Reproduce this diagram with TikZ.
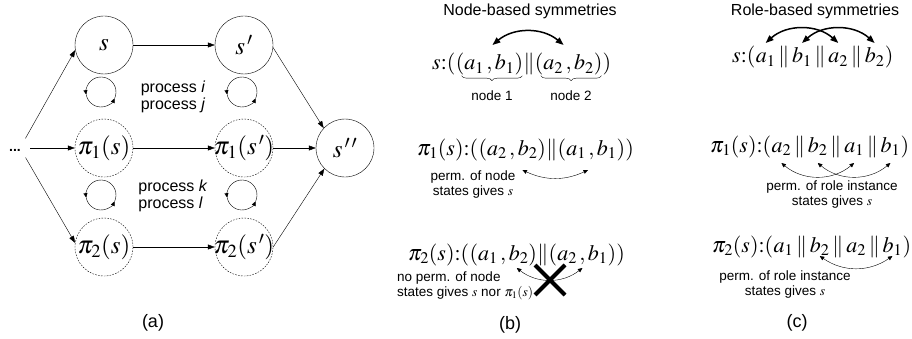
\documentclass[tikz,border=0pt]{standalone}
\usepackage{mathptmx}
\usepackage[no-math]{fontspec}
\setmainfont{Liberation Sans}
\usetikzlibrary{arrows.meta,calc,decorations.pathreplacing,shapes.misc}
\newcommand\statefont{\fontsize{25}{28}\selectfont}
\newcommand\fmlfont{\fontsize{22}{24}\selectfont}
\newcommand\notefont{\fontsize{13.5}{15}\selectfont}
\newcommand\stxt[1]{\makebox[0pt]{$#1$}}
\tikzset{
  state/.style={circle,draw,minimum size=58pt,inner sep=0pt,font=\statefont},
  imgstate/.style={state,dash pattern=on 1.6pt off 1.3pt},
  flow/.style={-{Triangle[length=7pt,width=5pt]}},
  spin/.style={-{Triangle[length=4.5pt,width=4pt]}},
  swaparc/.style={{Triangle[length=8pt,width=6pt]}-{Triangle[length=8pt,width=6pt]},line width=1.5pt},
  perm/.style={{Triangle[length=4.5pt,width=4pt]}-{Triangle[length=4.5pt,width=4pt]}},
  fml/.style={inner sep=0pt,anchor=base west,font=\fmlfont},
  note/.style={inner sep=0pt,align=center,font=\notefont},
  tag/.style={inner sep=0pt,font=\fontsize{16}{17}\selectfont},
  caption/.style={inner sep=0pt,font=\fontsize{18}{18}\selectfont},
}
\begin{document}
\begin{tikzpicture}[x=1pt,y=1pt]
\useasboundingbox (0,0) rectangle (912,338);
% (a) transition system and its images
\node[state] (s) at (104,293) {\stxt{s}};
\node[state] (sp) at (244,293) {\stxt{s^{\,\prime}}};
\node[imgstate] (pis) at (104,190) {\stxt{\pi_1(s)}};
\node[imgstate] (pisp) at (244,190) {\stxt{\pi_1(s^{\,\prime})}};
\node[imgstate] (pitwos) at (104,91) {\stxt{\pi_2(s)}};
\node[imgstate] (pitwosp) at (244,91) {\stxt{\pi_2(s^{\,\prime})}};
\node[state] (spp) at (345,190) {\stxt{s^{\,\prime\,\prime}}};
\node[inner sep=0pt,font=\fontsize{14}{14}\selectfont] (dots) at (15,188) {\textbf{...}};
\coordinate (fan) at (20,190);
\draw[flow,shorten <=9pt] (dots.east |- pis) -- (pis.west);
\draw[flow,shorten <=11pt] (fan) -- (s.190);
\draw[flow,shorten <=11pt] (fan) -- (pitwos.172);
\draw[flow] (s) -- (sp);
\draw[flow] (pis) -- (pisp);
\draw[flow] (pitwos) -- (pitwosp);
\draw[flow] (sp.355) -- (spp.137);
\draw[flow] (pisp) -- (spp);
\draw[flow] (pitwosp.east) -- (spp.225);
\foreach \p in {(101,246),(242,246),(101,143),(242,143)} {
  \draw[spin] \p ++(-25:15pt) arc[start angle=-25,end angle=190,radius=15pt];
  \draw[spin] \p ++(190:15pt) arc[start angle=190,end angle=335,radius=15pt];
}
\node[tag,align=left] (pij) at (173,241) {process \textit{i}\\process \textit{j}};
\node[tag,align=left] (pkl) at (173,142) {process \textit{k}\\process \textit{l}};
\node[caption] (capa) at (153,15) {(a)};
% (b) node-based symmetries
\node[tag] (nbtitle) at (530,327) {Node-based symmetries};
\node[fml] (bs) at (432,268) {$s{:}($};
\node[fml] (bg1) at (bs.base east) {$(a_1\mkern2mu,b_1)$};
\node[fml] (bbar) at (bg1.base east) {$\|$};
\node[fml] (bg2) at (bbar.base east) {$(a_2\mkern2mu,b_2)$};
\node[fml] (be) at (bg2.base east) {$)$};
\draw[swaparc] ([xshift=3pt,yshift=25pt]bg1.base) to[bend left=40] ([xshift=-5pt,yshift=25pt]bg2.base);
\draw[decorate,decoration={brace,mirror,amplitude=5pt}] ([xshift=6pt]bg1.south west) -- ([xshift=-1pt]bg1.south east)
  node[note,midway,below=15pt] (nodeone) {node 1};
\draw[decorate,decoration={brace,mirror,amplitude=5pt}] ([xshift=6pt]bg2.south west) -- ([xshift=-1pt]bg2.south east)
  node[note,midway,below=15pt] (nodetwo) {node 2};
\node[fml] (cs) at (417,183) {$\pi_1(s){:}($};
\node[fml] (cg1) at (cs.base east) {$(a_2\mkern2mu,b_2)$};
\node[fml] (cbar) at (cg1.base east) {$\|$};
\node[fml] (cg2) at (cbar.base east) {$(a_1\mkern2mu,b_1)$};
\node[fml] (ce) at (cg2.base east) {$)$};
\draw[perm] ($(cg1.base west)!.65!(cg1.base east)+(0,-15)$) to[bend right=25] ($(cg2.base west)!.45!(cg2.base east)+(0,-15)$);
\node[note] (permnode) at (473,153) {perm. of node\\states gives $s$};
\node[fml] (gs) at (408,78) {$\pi_2(s){:}($};
\node[fml] (gg1) at (gs.base east) {$(a_1\mkern2mu,b_2)$};
\node[fml] (gbar) at (gg1.base east) {$\|$};
\node[fml] (gg2) at (gbar.base east) {$(a_2\mkern2mu,b_1)$};
\node[fml] (ge) at (gg2.base east) {$)$};
\draw[perm] ($(gg1.base west)!.7!(gg1.base east)+(0,-8)$) to[bend right=38] ($(gg2.base west)!.5!(gg2.base east)+(0,-8)$);
\node[cross out,draw,line width=4pt,minimum size=26pt,inner sep=0pt] (nox) at (550,58) {};
\node[note,align=left,anchor=west] (nopermnode) at (397,52) {no perm. of node\\states gives $s$ nor $\pi_1(s)$};
\node[caption] (capb) at (510,13) {(b)};
% (c) role-based symmetries
\node[tag] (rbtitle) at (815,327) {Role-based symmetries};
\node[fml] (ds) at (732,275) {$s{:}($};
\node[fml] (da1) at (ds.base east) {$a_1$};
\node[fml] (dk1) at (da1.base east) {$\,\|\,$};
\node[fml] (db1) at (dk1.base east) {$b_1$};
\node[fml] (dk2) at (db1.base east) {$\,\|\,$};
\node[fml] (da2) at (dk2.base east) {$a_2$};
\node[fml] (dk3) at (da2.base east) {$\,\|\,$};
\node[fml] (db2) at (dk3.base east) {$b_2$};
\node[fml] (de) at (db2.base east) {$)$};
\draw[swaparc] ([yshift=20pt]da1.base) to[bend left=42] ([yshift=20pt]da2.base);
\draw[swaparc] ([yshift=20pt]db1.base) to[bend left=42] ([yshift=20pt]db2.base);
\node[fml] (es) at (710,186) {$\pi_1(s){:}($};
\node[fml] (ea2) at (es.base east) {$a_2$};
\node[fml] (ek1) at (ea2.base east) {$\,\|\,$};
\node[fml] (eb2) at (ek1.base east) {$b_2$};
\node[fml] (ek2) at (eb2.base east) {$\,\|\,$};
\node[fml] (ea1) at (ek2.base east) {$a_1$};
\node[fml] (ek3) at (ea1.base east) {$\,\|\,$};
\node[fml] (eb1) at (ek3.base east) {$b_1$};
\node[fml] (ee) at (eb1.base east) {$)$};
\draw[perm] ([yshift=-11pt]ea2.base) to[bend right=40] ([yshift=-11pt]ea1.base);
\draw[perm] ([yshift=-11pt]eb2.base) to[bend right=40] ([yshift=-11pt]eb1.base);
\node[note] (permrole) at (832,143) {perm. of role instance\\states gives $s$};
\node[fml] (fs) at (712,86) {$\pi_2(s){:}($};
\node[fml] (fa1) at (fs.base east) {$a_1$};
\node[fml] (fk1) at (fa1.base east) {$\,\|\,$};
\node[fml] (fb2) at (fk1.base east) {$b_2$};
\node[fml] (fk2) at (fb2.base east) {$\,\|\,$};
\node[fml] (fa2) at (fk2.base east) {$a_2$};
\node[fml] (fk3) at (fa2.base east) {$\,\|\,$};
\node[fml] (fb1) at (fk3.base east) {$b_1$};
\node[fml] (fe) at (fb1.base east) {$)$};
\draw[perm] ([yshift=-4pt]fb2.base) to[bend right=35] ([yshift=-4pt]fb1.base);
\node[note] (permroletwo) at (785,53) {perm. of role instance\\states gives $s$};
\node[caption] (capc) at (797,15) {(c)};
\end{tikzpicture}
\end{document}
